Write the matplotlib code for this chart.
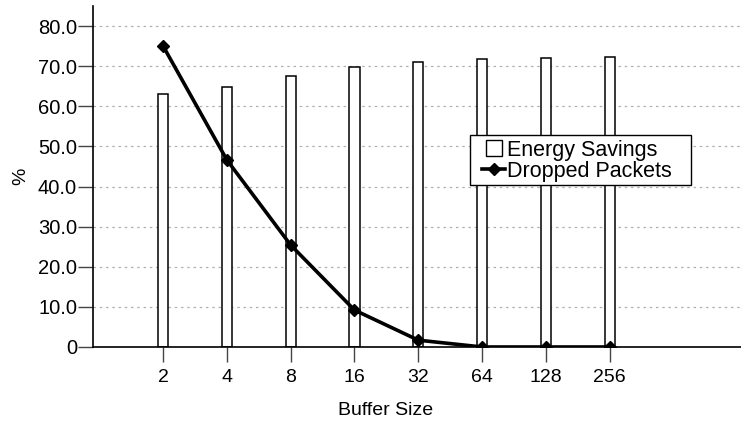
import matplotlib
matplotlib.use("Agg")
import matplotlib.pyplot as plt
from matplotlib.lines import Line2D
from matplotlib.patches import Rectangle
import numpy as np

plt.rcParams['font.family'] = ['Liberation Sans', 'DejaVu Sans']

buffer_sizes = ["2", "4", "8", "16", "32", "64", "128", "256"]
energy_savings = [63.1, 64.7, 67.5, 69.8, 71.1, 71.8, 72.1, 72.4]
dropped_packets = [75.0, 46.6, 25.4, 9.2, 1.7, 0.0, 0.0, 0.0]
y_ticks = [0, 10, 20, 30, 40, 50, 60, 70, 80]

fig = plt.figure(figsize=(7.41, 4.23), dpi=100)
ax = fig.add_axes([0.1255, 0.1797, 0.8745, 0.8061])

x = np.arange(len(buffer_sizes))
ax.bar(x, energy_savings, width=0.16, facecolor='white', edgecolor='black',
       linewidth=1.1, zorder=2)
ax.plot(x, dropped_packets, color='black', linewidth=2.6, marker='D',
        markersize=6, zorder=3)

ax.set_xlim(-1.1, 9.06)
ax.set_ylim(0, 85)
ax.set_xticks(x)
ax.set_xticklabels(buffer_sizes, fontsize=14)
ax.set_yticks(y_ticks)
ax.set_yticklabels(["0" if v == 0 else "%.1f" % v for v in y_ticks], fontsize=14.5)
ax.tick_params(axis='both', direction='out', length=10.5, width=1.0, color='#444444')
ax.tick_params(axis='x', pad=5)
ax.tick_params(axis='y', pad=1)

ax.yaxis.grid(True, linestyle=(0, (2, 3)), color='#b0b0b0', linewidth=0.9, zorder=0)
ax.set_axisbelow(True)
for s in ['top', 'right']:
    ax.spines[s].set_visible(False)
for s in ['left', 'bottom']:
    ax.spines[s].set_linewidth(1.2)

ax.set_xlabel("Buffer Size", fontsize=14)
ax.xaxis.set_label_coords(0.452, -0.16)
ax.set_ylabel("%", fontsize=14)
ax.yaxis.set_label_coords(-0.099, 0.5)

handles = [
    Line2D([], [], marker='s', linestyle='none', markerfacecolor='white',
           markeredgecolor='black', markersize=12, markeredgewidth=1.0),
    Line2D([], [], color='black', linewidth=2.6, marker='D', markersize=6),
]
leg = ax.legend(handles, ["Energy Savings", "Dropped Packets"],
                loc='lower left', bbox_to_anchor=(0.601, 0.485),
                fontsize=15.5, frameon=False, handlelength=1.05, handletextpad=0.1,
                labelspacing=0.0, borderpad=0.0, borderaxespad=0)
leg.set_zorder(5)

# draw the legend frame with wider horizontal padding
fig.canvas.draw()
bb = leg.get_window_extent()
inv = fig.transFigure.inverted()
(x0, y0), (x1, y1) = inv.transform([(bb.x0 - 12, bb.y0 - 3), (bb.x1 + 19, bb.y1 + 5)])
frame = Rectangle((x0, y0), x1 - x0, y1 - y0, transform=fig.transFigure,
                  facecolor='white', edgecolor='black', linewidth=1.0, zorder=4)
ax.add_artist(frame)
frame.set_clip_on(False)

fig.savefig("out.png", dpi=100)
